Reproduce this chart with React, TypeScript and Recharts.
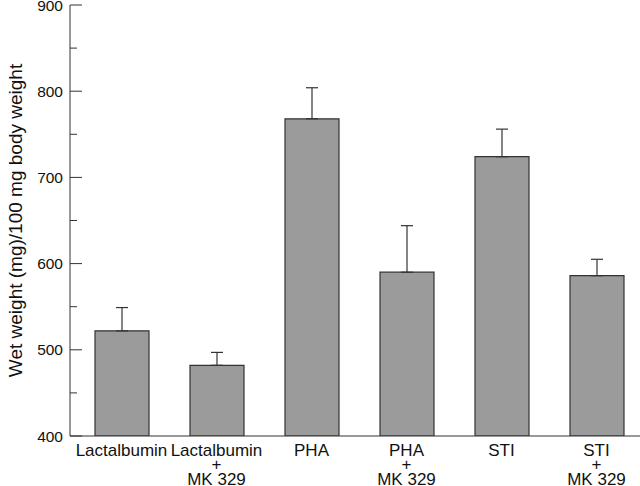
import React from "react";
import { Bar, BarChart, ErrorBar, XAxis, YAxis } from "recharts";

const categories = [
  "Lactalbumin",
  "Lactalbumin\n+\nMK 329",
  "PHA",
  "PHA\n+\nMK 329",
  "STI",
  "STI\n+\nMK 329",
];
const means = [522, 482, 768, 590, 724, 586];
const sem = [27, 15, 36, 54, 32, 19];
const yTicks = [400, 450, 500, 550, 600, 650, 700, 750, 800, 850, 900];

const INK = "#333";
const FONT = "'Liberation Sans', Arial, Helvetica, sans-serif";

const data = categories.map((name, i) => ({
  name,
  mean: means[i],
  err: [0, sem[i]],
}));

function CategoryTick(props: any) {
  const { x, y, payload } = props;
  const lines = String(payload.value).split("\n");
  return (
    <text x={x} y={y} textAnchor="middle" fill="#111" fontSize={17} fontFamily={FONT}>
      {lines.map((l, i) => (
        <tspan key={i} x={x} dy={i === 0 ? "1.05em" : 14.5}>
          {l}
        </tspan>
      ))}
    </text>
  );
}

function ValueTick(props: any) {
  const { x, y, payload } = props;
  const major = payload.value % 100 === 0;
  return (
    <g>
      <line x1={x + 7} x2={x + 7 + (major ? 12 : 7)} y1={y} y2={y} stroke={INK} />
      {major && (
        <text x={x} y={y} dy="0.36em" textAnchor="end" fill="#111" fontSize={15.5} fontFamily={FONT}>
          {payload.value}
        </text>
      )}
    </g>
  );
}

export default function App() {
  return (
    <div style={{ position: "absolute", left: 0, top: 0, width: 640, height: 486, overflow: "hidden", background: "#fff" }}>
      <BarChart
        width={644}
        height={486}
        data={data}
        margin={{ top: 5, right: 0, left: 0, bottom: 0 }}
        barSize={54}
      >
        <XAxis
          dataKey="name"
          interval={0}
          padding={{ left: 4, right: 0 }}
          axisLine={{ stroke: INK }}
          tickLine={false}
          tickSize={0}
          tick={<CategoryTick />}
          height={50}
        />
        <YAxis
          width={70}
          domain={[400, 900]}
          ticks={yTicks}
          allowDataOverflow
          axisLine={{ stroke: INK }}
          tickLine={false}
          tickSize={0}
          tickMargin={7}
          interval={0}
          tick={<ValueTick />}
          label={{
            value: "Wet weight (mg)/100 mg body weight",
            angle: -90,
            position: "insideLeft",
            dx: 10,
            style: { textAnchor: "middle", fontSize: 19, fontFamily: FONT, fill: "#111" },
          }}
        />
        <Bar dataKey="mean" fill="#9b9b9b" stroke={INK} strokeWidth={1.2} isAnimationActive={false}>
          <ErrorBar dataKey="err" width={6} stroke={INK} strokeWidth={1.2} direction="y" />
        </Bar>
      </BarChart>
    </div>
  );
}
